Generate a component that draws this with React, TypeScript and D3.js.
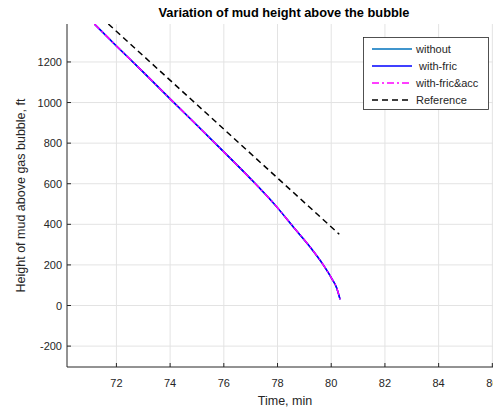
import React from "react";
import * as d3 from "d3";

const timeMain = [71.18, 72, 73, 74, 75, 76, 77, 77.97, 78.59, 79.21, 79.71, 80.02, 80.2, 80.33];
const hWithout = [1387, 1279, 1150, 1018, 888, 757, 624, 486, 387, 289, 199, 133, 88, 30];
const hWithFric = [1387, 1279, 1150, 1018, 888, 757, 624, 486, 387, 289, 199, 133, 88, 30];
const hWithFricAcc = [1387, 1279, 1150, 1018, 888, 757, 624, 486, 387, 289, 199, 133, 88, 30];
const refTime = [71.7, 80.3];
const refHeight = [1387, 351];
const xTicks = [72, 74, 76, 78, 80, 82, 84, 86];
const yTicks = [-200, 0, 200, 400, 600, 800, 1000, 1200];
const legendLabels = ["without", " with-fric", "with-fric&acc", "Reference"];

const W = 493, H = 413;
const L = 67, R = 502, T = 24, B = 367;
const font = "'Liberation Sans', Arial, Helvetica, sans-serif";

export default function App() {
  const x = d3.scaleLinear().domain([70.16, 86.36]).range([L, R]);
  const y = d3.scaleLinear().domain([-303, 1387]).range([B, T]);
  const line = d3.line<[number, number]>().x(d => x(d[0])).y(d => y(d[1])).curve(d3.curveMonotoneX);
  const mk = (ts: number[], hs: number[]) => line(ts.map((t, i) => [t, hs[i]] as [number, number])) || "";

  const series = [
    { d: mk(timeMain, hWithout), color: "#0072BD", dash: "none" },
    { d: mk(timeMain, hWithFric), color: "#0000FF", dash: "none" },
    { d: mk(timeMain, hWithFricAcc), color: "#FF00FF", dash: "7,3,2,3" },
    { d: mk(refTime, refHeight), color: "#000000", dash: "6,4" },
  ];

  const lgX = 363.5, lgY = 37.5, lgW = 125, lgH = 72;
  const rowY = [49, 66, 83, 100];

  return (
    <svg width={W} height={H} style={{ position: "absolute", left: 0, top: 0, background: "#fff" }} fontFamily={font}>
      <rect x={0} y={0} width={W} height={H} fill="#fff" />
      <defs>
        <clipPath id="plotclip">
          <rect x={L} y={T} width={R - L} height={B - T} />
        </clipPath>
      </defs>
      {xTicks.map(t => (
        <line key={"gx" + t} x1={x(t)} x2={x(t)} y1={T} y2={B} stroke="#e3e3e3" strokeWidth={1} />
      ))}
      {yTicks.map(t => (
        <line key={"gy" + t} x1={L} x2={R} y1={y(t)} y2={y(t)} stroke="#e3e3e3" strokeWidth={1} />
      ))}
      <line x1={L} x2={R} y1={B} y2={B} stroke="#262626" strokeWidth={1} />
      <line x1={L} x2={L} y1={T} y2={B} stroke="#262626" strokeWidth={1} />
      {xTicks.map(t => (
        <g key={"tx" + t}>
          <line x1={x(t)} x2={x(t)} y1={B} y2={B - 4} stroke="#262626" />
          <text x={x(t)} y={387} fontSize={11} fill="#262626" textAnchor="middle">{t}</text>
        </g>
      ))}
      {yTicks.map(t => (
        <g key={"ty" + t}>
          <line x1={L} x2={L + 4} y1={y(t)} y2={y(t)} stroke="#262626" />
          <text x={62} y={y(t) + 4} fontSize={11} fill="#262626" textAnchor="end">{t}</text>
        </g>
      ))}
      <g clipPath="url(#plotclip)">
        {series.map((s, i) => (
          <path key={i} d={s.d} fill="none" stroke={s.color} strokeWidth={1.5} strokeDasharray={s.dash} />
        ))}
      </g>
      <text x={284} y={17} fontSize={12.8} fontWeight="bold" textAnchor="middle" fill="#000">
        Variation of mud height above the bubble
      </text>
      <text x={285} y={405} fontSize={12.5} textAnchor="middle" fill="#262626">Time, min</text>
      <text transform={`translate(25,${(T + B) / 2}) rotate(-90)`} fontSize={12.5} textAnchor="middle" fill="#262626">
        Height of mud above gas bubble, ft
      </text>
      <rect x={lgX} y={lgY} width={lgW} height={lgH} fill="#fff" stroke="#262626" strokeWidth={0.8} />
      {series.map((s, i) => (
        <g key={"lg" + i}>
          <line x1={372} x2={412} y1={rowY[i]} y2={rowY[i]} stroke={s.color} strokeWidth={1.5} strokeDasharray={s.dash} />
          <text x={416} y={rowY[i] + 4} fontSize={11} fill="#262626" style={{ whiteSpace: "pre" }}>{legendLabels[i]}</text>
        </g>
      ))}
    </svg>
  );
}
